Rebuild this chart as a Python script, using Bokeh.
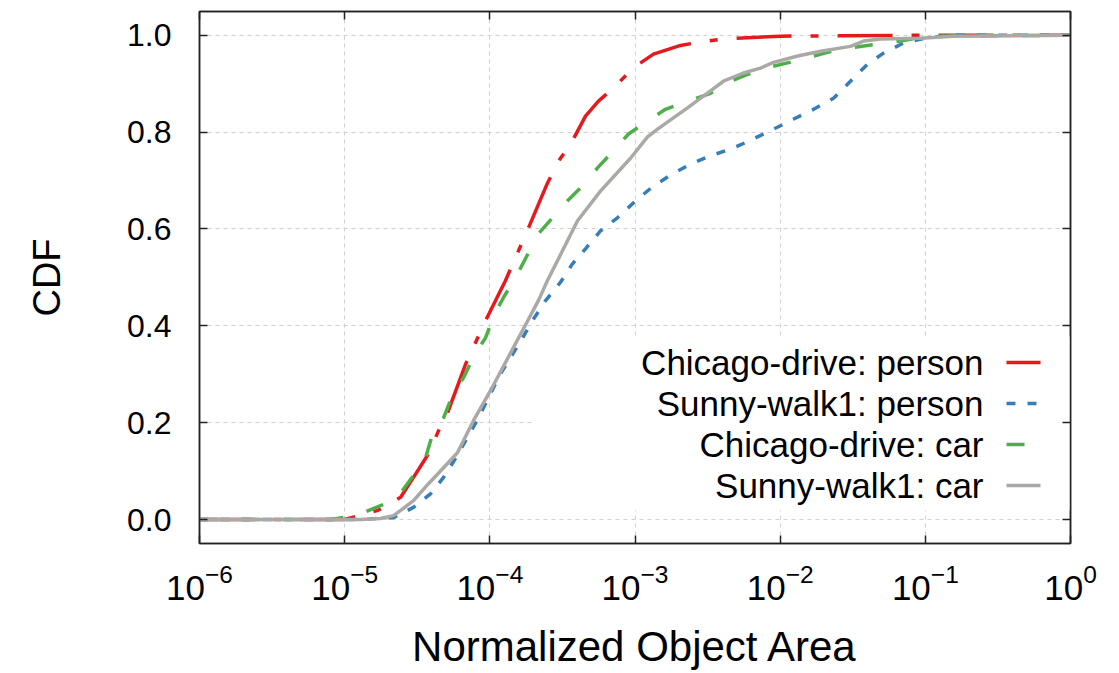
from bokeh.plotting import figure
from bokeh.models import (LinearAxis, FixedTicker, PrintfTickFormatter, CustomJSTickFormatter,
                          Label, Arrow, BoxAnnotation, Range1d)
from bokeh.embed import file_html
from bokeh.resources import INLINE

FONT = "Liberation Sans"

# ---- data ----
series_names = ["Chicago-drive: person", "Sunny-walk1: person", "Chicago-drive: car", "Sunny-walk1: car"]

chicago_person_x = [1e-6, 1.0e-5, 1.70e-5, 2.43e-5, 2.98e-5, 3.78e-5, 4.43e-5, 5.11e-5, 6.79e-5, 7.96e-5,
                    9.33e-5, 1.28e-4, 1.81e-4, 2.48e-4, 2.97e-4, 3.60e-4, 4.56e-4, 5.60e-4, 7.11e-4,
                    9.77e-4, 1.34e-3, 2.06e-3, 2.82e-3, 4.34e-3, 1.0e-2, 0.1, 1.0]
chicago_person_y = [0.0, 0.0, 0.019, 0.046, 0.087, 0.136, 0.183, 0.22, 0.32, 0.365,
                    0.41, 0.493, 0.596, 0.693, 0.74, 0.775, 0.833, 0.864, 0.891,
                    0.933, 0.961, 0.979, 0.986, 0.993, 0.998, 1.0, 1.0]

sunny_person_x = [1e-6, 1.29e-5, 2.17e-5, 2.98e-5, 3.90e-5, 4.80e-5, 5.79e-5, 7.01e-5, 8.36e-5, 1.01e-4,
                  1.18e-4, 1.68e-4, 2.00e-4, 2.42e-4, 3.07e-4, 3.71e-4, 4.56e-4, 5.78e-4, 7.57e-4,
                  1.01e-3, 1.32e-3, 1.75e-3, 2.41e-3, 3.31e-3, 4.76e-3, 6.55e-3, 8.99e-3, 1.24e-2,
                  1.70e-2, 2.33e-2, 3.05e-2, 3.99e-2, 5.15e-2, 7.08e-2, 0.1, 0.149, 1.0]
sunny_person_y = [0.0, 0.0, 0.004, 0.025, 0.053, 0.087, 0.126, 0.169, 0.21, 0.26,
                  0.3, 0.375, 0.414, 0.452, 0.49, 0.528, 0.559, 0.596, 0.623,
                  0.658, 0.687, 0.711, 0.734, 0.751, 0.767, 0.786, 0.806, 0.827,
                  0.847, 0.870, 0.905, 0.940, 0.963, 0.984, 0.994, 1.0, 1.0]

chicago_car_x = [1e-6, 7.98e-6, 1.01e-5, 1.29e-5, 1.91e-5, 2.35e-5, 3.08e-5, 3.61e-5, 4.09e-5, 4.80e-5,
                 5.62e-5, 6.59e-5, 7.96e-5, 9.33e-5, 1.09e-4, 1.24e-4, 1.55e-4, 2.16e-4, 3.43e-4,
                 4.22e-4, 5.52e-4, 6.78e-4, 9.02e-4, 1.13e-3, 1.62e-3, 2.12e-3, 3.31e-3, 4.07e-3,
                 5.96e-3, 7.93e-3, 1.24e-2, 1.54e-2, 2.52e-2, 3.20e-2, 5.15e-2, 6.75e-2, 0.104, 1.0]
chicago_car_y = [0.0, 0.0, 0.005, 0.012, 0.033, 0.049, 0.097, 0.128, 0.183, 0.21,
                 0.262, 0.293, 0.344, 0.375, 0.427, 0.458, 0.507, 0.59, 0.658,
                 0.685, 0.726, 0.755, 0.796, 0.816, 0.847, 0.86, 0.88, 0.899,
                 0.919, 0.932, 0.946, 0.953, 0.971, 0.975, 0.983, 0.988, 0.998, 1.0]

sunny_car_x = [1e-6, 1.29e-5, 1.77e-5, 2.17e-5, 2.43e-5, 2.98e-5, 3.78e-5, 4.80e-5, 5.98e-5, 7.71e-5,
               1.01e-4, 1.39e-4, 1.82e-4, 2.16e-4, 2.49e-4, 2.92e-4, 4.02e-4, 5.78e-4, 9.31e-4,
               1.22e-3, 1.43e-3, 2.30e-3, 3.31e-3, 4.07e-3, 5.58e-3, 7.31e-3, 8.99e-3, 1.32e-2,
               1.90e-2, 3.05e-2, 3.75e-2, 4.91e-2, 9.27e-2, 0.156, 1.0]
sunny_car_y = [0.0, 0.0, 0.002, 0.008, 0.019, 0.039, 0.074, 0.107, 0.138, 0.204,
               0.266, 0.344, 0.41, 0.452, 0.493, 0.534, 0.617, 0.678, 0.746,
               0.79, 0.806, 0.85, 0.885, 0.905, 0.922, 0.932, 0.944, 0.957,
               0.967, 0.977, 0.988, 0.992, 0.994, 0.998, 1.0]

x_ticks = [1e-6, 1e-5, 1e-4, 1e-3, 1e-2, 1e-1, 1.0]
y_ticks = [0.0, 0.2, 0.4, 0.6, 0.8, 1.0]

# ---- styles ----
colors = ["#e41a1c", "#377eb8", "#4daf4a", "#aaa9a6"]
dashes = ["55 19 8 19", "9 12", "18 24", "solid"]
LW = 3.5

p = figure(width=1119, height=673, x_axis_type="log",
           x_range=Range1d(1e-6, 1.0), y_range=Range1d(-0.0495, 1.049),
           output_backend="svg", toolbar_location=None,
           min_border_left=199, min_border_right=49, min_border_top=11, min_border_bottom=130)

p.background_fill_color = "white"
p.border_fill_color = "white"
p.outline_line_color = "#222222"
p.outline_line_width = 1.5

# grid
for g in (p.xgrid[0], p.ygrid[0]):
    g.grid_line_color = "#cfcfcf"
    g.grid_line_dash = "4 4"
    g.grid_line_width = 1
p.xgrid[0].ticker = FixedTicker(ticks=x_ticks)
p.ygrid[0].ticker = FixedTicker(ticks=y_ticks)

xa = p.xaxis[0]
ya = p.yaxis[0]
xa.ticker = FixedTicker(ticks=x_ticks)
ya.ticker = FixedTicker(ticks=y_ticks)
ya.formatter = PrintfTickFormatter(format="%.1f")
xa.axis_label = "Normalized Object Area"
ya.axis_label = "CDF"

def style_axis(ax):
    ax.axis_line_color = "#222222"
    ax.axis_line_width = 1.5
    ax.major_tick_line_color = "#222222"
    ax.major_tick_line_width = 1.5
    ax.major_tick_in = 8
    ax.major_tick_out = 0
    ax.minor_tick_line_color = None
    ax.major_label_text_font = FONT
    ax.major_label_text_color = "black"
    ax.axis_label_text_font = FONT
    ax.axis_label_text_font_style = "normal"
    ax.axis_label_text_color = "black"

style_axis(xa)
style_axis(ya)
xa.major_label_text_font_size = "35px"
ya.major_label_text_font_size = "32px"
xa.axis_label_text_font_size = "42px"
ya.axis_label_text_font_size = "38px"
xa.major_label_standoff = 20
ya.major_label_standoff = 28
xa.axis_label_standoff = 20
ya.axis_label_standoff = 56

# mirrored axes (ticks only)
top = LinearAxis(ticker=FixedTicker(ticks=x_ticks), formatter=CustomJSTickFormatter(code="return ''"))
right = LinearAxis(ticker=FixedTicker(ticks=y_ticks), formatter=CustomJSTickFormatter(code="return ''"))
for ax in (top, right):
    style_axis(ax)
    ax.major_label_standoff = 0
    ax.major_label_text_font_size = "1px"
p.add_layout(top, "above")
p.add_layout(right, "right")

# curves
xs = [chicago_person_x, sunny_person_x, chicago_car_x, sunny_car_x]
ys = [chicago_person_y, sunny_person_y, chicago_car_y, sunny_car_y]
for x, y, c, d in zip(xs, ys, colors, dashes):
    p.line(x, y, line_color=c, line_width=LW, line_dash=d)

# legend (gnuplot style: text right-aligned, sample to the right)
p.add_layout(BoxAnnotation(left=333, right=871, top=207, bottom=33,
                           left_units="screen", right_units="screen",
                           top_units="screen", bottom_units="screen",
                           fill_color="white", fill_alpha=1.0, line_color=None,
                           level="underlay"))
row_text_y = [181, 140, 99, 58]
row_line_y = [181, 140, 99, 58]
for name, c, d, ty, ly in zip(series_names, colors, dashes, row_text_y, row_line_y):
    p.add_layout(Label(x=784, y=ty, x_units="screen", y_units="screen", text=name,
                       text_align="right", text_baseline="middle",
                       text_font=FONT, text_font_size="35px", text_color="black"))
    p.add_layout(Arrow(x_start=807, y_start=ly, x_end=841, y_end=ly,
                       start_units="screen", end_units="screen", start=None, end=None,
                       line_color=c, line_width=LW, line_dash=d))

open("out.html", "w").write(file_html(p, INLINE))
